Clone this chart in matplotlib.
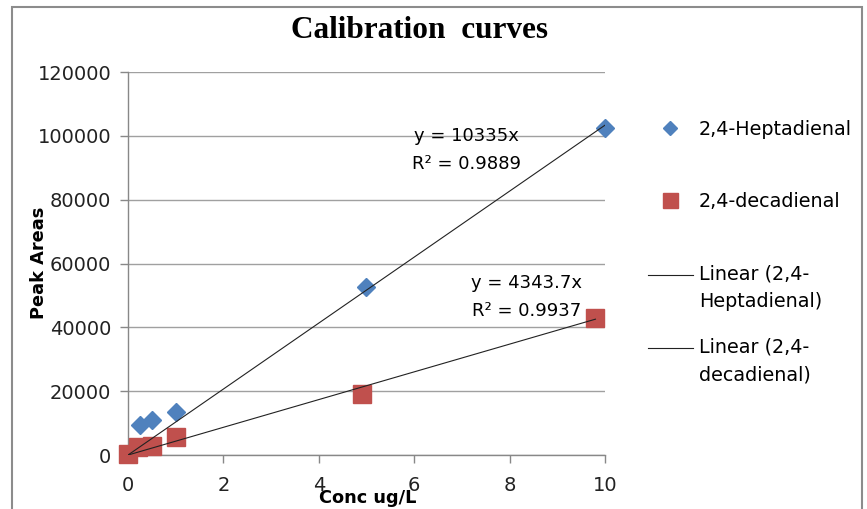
#Import Libraries
import numpy as np
import matplotlib.pyplot as plt
from matplotlib.patches import Rectangle
from matplotlib.legend_handler import HandlerLine2D

#Data
hept_x = [0.25, 0.5, 1, 5, 10]
hept_y = [9400, 11000, 13600, 52600, 102500]
deca_x = [0, 0.2, 0.5, 1, 4.9, 9.8]
deca_y = [300, 2400, 2900, 5700, 19100, 43000]
hept_slope = 10335
deca_slope = 4343.7
hept_r2 = 0.9889
deca_r2 = 0.9937
x_ticks = [0, 2, 4, 6, 8, 10]
y_ticks = [0, 20000, 40000, 60000, 80000, 100000, 120000]

plt.rcParams['font.family'] = ['DejaVu Sans']


#legend line sits on the first text row, like Excel does it
class TopLine(HandlerLine2D):
    def create_artists(self, legend, orig_handle, xdescent, ydescent, width, height, fontsize, trans):
        arts = super().create_artists(legend, orig_handle, xdescent, ydescent, width, height, fontsize, trans)
        for a in arts:
            a.set_ydata(np.asarray(a.get_ydata()) + 0.72 * fontsize)
        return arts


fig = plt.figure(figsize=(8.67, 5.09), dpi=100)
ax = fig.add_axes([0.1476, 0.106, 0.5502, 0.7525])

blue = '#4F81BD'
red = '#C0504D'

#Scatter points
p1, = ax.plot(hept_x, hept_y, 'D', color=blue, markersize=9.5, zorder=3, clip_on=False)
p2, = ax.plot(deca_x, deca_y, 's', color=red, markersize=13.5, zorder=3, clip_on=False)

#Linear trendlines through the origin
xh = np.array([0, max(hept_x)])
xd = np.array([0, max(deca_x)])
l1, = ax.plot(xh, hept_slope * xh, color='#222222', lw=0.8, zorder=4)
l2, = ax.plot(xd, deca_slope * xd, color='#222222', lw=0.8, zorder=4)

ax.text(7.09, 95500, 'y = %dx\nR² = %.4f' % (hept_slope, hept_r2), ha='center', va='center',
        fontsize=13, linespacing=1.75, zorder=5)
ax.text(8.36, 49500, 'y = %.1fx\nR² = %.4f' % (deca_slope, deca_r2), ha='center', va='center',
        fontsize=13, linespacing=1.75, zorder=5)

ax.set_xlim(0, 10)
ax.set_ylim(0, 120000)
ax.set_xticks(x_ticks)
ax.set_yticks(y_ticks)
ax.tick_params(labelsize=14, colors='#888888', labelcolor='#222222', length=6, width=1)
ax.tick_params(axis='x', pad=9)
ax.tick_params(axis='y', pad=6)
ax.grid(axis='y', color='#a0a0a0', lw=1)
ax.set_axisbelow(True)
for s in ['top', 'right']:
    ax.spines[s].set_visible(False)
for s in ['left', 'bottom']:
    ax.spines[s].set_color('#888888')
    ax.spines[s].set_linewidth(1)

ax.text(-0.1855, 0.501, 'Peak Areas', transform=ax.transAxes, rotation=90, ha='center', va='center',
        fontsize=12.8, fontweight='bold')
ax.text(0.503, -0.112, 'Conc ug/L', transform=ax.transAxes, ha='center', va='center',
        fontsize=12.8, fontweight='bold')

fig.text(0.484, 0.941, 'Calibration  curves', ha='center', va='center', fontsize=22.5,
         fontweight='bold', family='Liberation Serif')

#Legend: markers and trendlines
leg1 = fig.legend([p1, p2], ['2,4-Heptadienal', '2,4-decadienal'], loc='upper left',
                  bbox_to_anchor=(0.747, 0.764), frameon=False, fontsize=13.75,
                  labelspacing=2.76, handlelength=2.36, handletextpad=0.31,
                  borderpad=0, borderaxespad=0, markerscale=0.8)
leg2 = fig.legend([l1, l2], ['Linear (2,4-\nHeptadienal)', 'Linear (2,4-\ndecadienal)'],
                  loc='upper left', bbox_to_anchor=(0.747, 0.481), frameon=False,
                  fontsize=13.75, labelspacing=1.4, handlelength=2.36, handletextpad=0.31,
                  borderpad=0, borderaxespad=0, handler_map={l1: TopLine(), l2: TopLine()})
for t in leg2.get_texts():
    t.set_linespacing(1.6)

#Outer chart border
fig.patches.append(Rectangle((0.014, -0.05), 0.98, 1.036, transform=fig.transFigure,
                             fill=False, edgecolor='#8c8c8c', lw=1.5))

plt.savefig('out.png', dpi=100)
